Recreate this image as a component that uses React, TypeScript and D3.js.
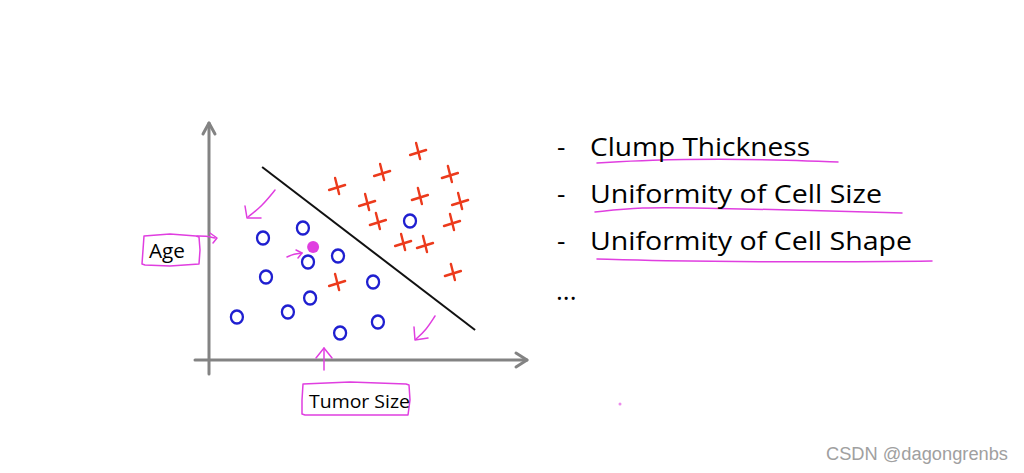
import React from "react";
import * as d3 from "d3";

// data (x: tumor size, y: age), in axis units 0..10
const crossX = [6.97, 5.77, 8.03, 4.27, 7.03, 8.37, 5.27, 5.63, 8.1, 6.47, 7.2, 8.13, 4.27];
const crossY = [10.4, 9.35, 9.25, 8.65, 8.15, 7.9, 7.85, 6.9, 6.85, 5.85, 5.75, 4.35, 3.85];
const circleX = [6.7, 3.13, 1.8, 4.3, 3.3, 1.9, 3.37, 5.47, 0.93, 2.63, 5.63, 4.37];
const circleY = [6.95, 6.6, 6.1, 5.2, 4.9, 4.15, 3.1, 3.9, 2.15, 2.4, 1.9, 1.35];
const queryPoint = [3.47, 5.65];
const boundaryX = [1.77, 8.87];
const boundaryY = [9.65, 1.5];
const bullets = ["Clump Thickness", "Uniformity of Cell Size", "Uniformity of Cell Shape"];
const bulletWidths = [220, 292, 322];
const xLabel = "Tumor Size";
const yLabel = "Age";
const watermark = "CSDN @dagongrenbs";

const W = 1024;
const H = 473;
const PINK = "#e03ee0";
const BLUE = "#1f1fd0";
const RED = "#ec3a1c";
const GRAY = "#838383";

export default function App() {
  const x = d3.scaleLinear().domain([0, 10]).range([209, 509]);
  const y = d3.scaleLinear().domain([0, 10]).range([360, 160]);
  const line = d3.line<[number, number]>().curve(d3.curveBasis);
  const straight = d3.line<[number, number]>();

  const underlines: [number, number][][] = [
    [[597, 163], [650, 160], [720, 159], [790, 160], [838, 162]],
    [[595, 212], [640, 207], [700, 208], [800, 210], [902, 213]],
    [[597, 259], [660, 261], [760, 262], [860, 262], [932, 261]],
  ];
  const arrows: { shaft: [number, number][]; head: [number, number][] }[] = [
    { shaft: [[275, 190], [262, 206], [248, 217]], head: [[245, 206], [247, 218], [261, 218]] },
    { shaft: [[435, 316], [426, 330], [416, 339]], head: [[414, 327], [415, 340], [428, 338]] },
    { shaft: [[324, 370], [324, 359], [324, 348]], head: [[316, 358], [324, 348], [332, 358]] },
    { shaft: [[197, 236], [206, 236], [215, 238]], head: [[210, 233], [217, 238], [213, 243]] },
    { shaft: [[287, 257], [294, 254], [302, 253]], head: [[296, 250], [302, 253], [298, 258]] },
  ];
  const ageBox: [number, number][] = [[144, 236], [170, 234], [196, 236], [199, 237], [200, 250], [199, 264], [170, 266], [145, 265], [142, 264], [143, 250], [144, 236]];
  const tumorBox: [number, number][] = [[303, 384], [350, 382], [406, 384], [409, 385], [410, 400], [408, 415], [355, 415], [305, 415], [302, 414], [302, 400], [303, 384]];

  return (
    <svg width={W} height={H} style={{ position: "absolute", left: 0, top: 0, background: "#fff" }}>
      <rect width={W} height={H} fill="#fff" />
      {/* axes */}
      <g stroke={GRAY} strokeWidth={3} fill="none" strokeLinecap="round" strokeLinejoin="round">
        <line x1={x(0)} y1={y(-0.7)} x2={x(0)} y2={123} />
        <polyline points={`${x(0) - 6},${134} ${x(0)},${123} ${x(0) + 6},${134}`} />
        <line x1={195} y1={y(0)} x2={527} y2={y(0)} />
        <polyline points={`${516},${y(0) - 7} ${527},${y(0)} ${516},${y(0) + 7}`} />
      </g>
      {/* decision boundary */}
      <line x1={x(boundaryX[0])} y1={y(boundaryY[0])} x2={x(boundaryX[1])} y2={y(boundaryY[1])} stroke="#111" strokeWidth={2} />
      {/* crosses */}
      <g stroke={RED} strokeWidth={2.4} strokeLinecap="round">
        {crossX.map((v, i) => {
          const cx = x(v), cy = y(crossY[i]);
          return (
            <g key={i}>
              <line x1={cx - 8} y1={cy + 3} x2={cx + 8} y2={cy - 2} />
              <line x1={cx - 2} y1={cy - 9} x2={cx + 2} y2={cy + 7} />
            </g>
          );
        })}
      </g>
      {/* circles */}
      <g stroke={BLUE} strokeWidth={2.3} fill="none">
        {circleX.map((v, i) => (
          <ellipse key={i} cx={x(v)} cy={y(circleY[i])} rx={6} ry={6.5} />
        ))}
      </g>
      <circle cx={x(queryPoint[0])} cy={y(queryPoint[1])} r={6} fill={PINK} />
      {/* pink annotations */}
      <g stroke={PINK} strokeWidth={1.5} fill="none" strokeLinecap="round" strokeLinejoin="round">
        {arrows.map((a, i) => (
          <g key={i}>
            <path d={line(a.shaft) || ""} />
            <path d={straight(a.head) || ""} />
          </g>
        ))}
        {underlines.map((u, i) => (
          <path key={i} d={line(u) || ""} />
        ))}
        <path d={straight(ageBox) || ""} />
        <path d={straight(tumorBox) || ""} />
      </g>
      <circle cx={620} cy={404} r={1.5} fill={PINK} opacity={0.6} />
      {/* labels */}
      <g fontFamily="'Open Sans', Lato, sans-serif" fill="#000">
        <text x={149} y={258} fontSize={20} textLength={36} lengthAdjust="spacingAndGlyphs">{yLabel}</text>
        <text x={309} y={408} fontSize={19} textLength={101} lengthAdjust="spacingAndGlyphs">{xLabel}</text>
        {bullets.map((b, i) => (
          <g key={i}>
            <text x={557} y={156 + i * 47} fontSize={26}>-</text>
            <text x={590} y={156 + i * 47} fontSize={26} textLength={bulletWidths[i]} lengthAdjust="spacingAndGlyphs">{b}</text>
          </g>
        ))}
        <text x={556} y={300} fontSize={26}>...</text>
      </g>
      <text x={826} y={460} fontSize={18} fill="#a0a0a0" fontFamily="'Liberation Sans', Arial, sans-serif" textLength={182} lengthAdjust="spacingAndGlyphs">{watermark}</text>
    </svg>
  );
}
